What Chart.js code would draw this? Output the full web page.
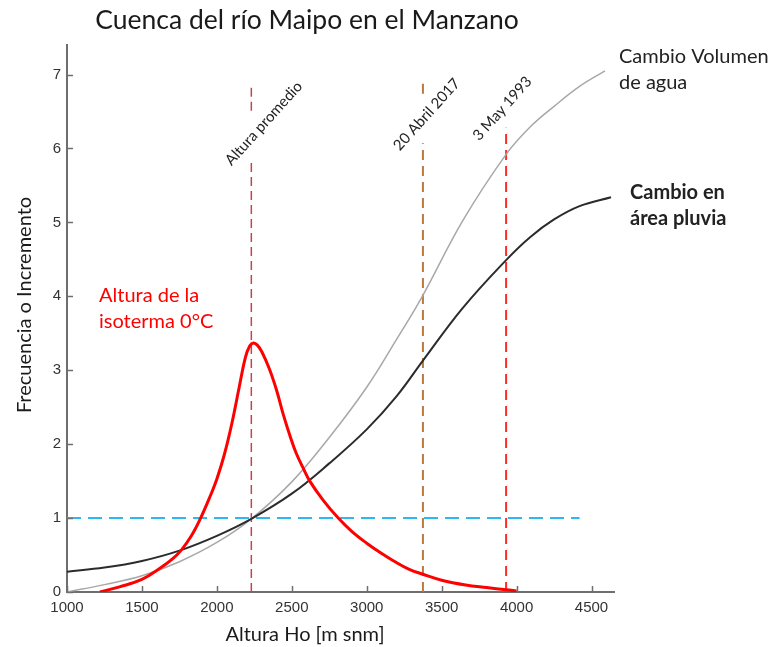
<!DOCTYPE html>
<html>
<head>
<meta charset="utf-8">
<script src="https://cdn.jsdelivr.net/npm/chart.js@4.4.1/dist/chart.umd.min.js"></script>
<style>
  body { margin: 0; background: #fff; }
  #wrap { width: 771px; height: 647px; position: relative; }
</style>
</head>
<body>
<div id="wrap"><canvas id="maipoChart"></canvas></div>
<script>
// --- datos ---
const isotermaX = [1220, 1350, 1500, 1620, 1700, 1764, 1830, 1887, 1950, 2000, 2050, 2100, 2150, 2190, 2220, 2245, 2270, 2300, 2350, 2400, 2442, 2490, 2531, 2580, 2620, 2710, 2810, 2900, 3000, 3100, 3180, 3280, 3375, 3500, 3660, 3800, 3930, 4000];
const isotermaY = [0, 0.07, 0.17, 0.32, 0.44, 0.57, 0.76, 0.98, 1.27, 1.53, 1.86, 2.28, 2.78, 3.17, 3.33, 3.37, 3.34, 3.25, 3.02, 2.72, 2.41, 2.1, 1.87, 1.66, 1.5, 1.24, 1.0, 0.82, 0.66, 0.52, 0.42, 0.31, 0.24, 0.16, 0.095, 0.06, 0.03, 0.015];

const pluviaX = [1000, 1250, 1500, 1750, 2000, 2230, 2500, 2750, 3000, 3200, 3375, 3640, 3930, 4090, 4250, 4420, 4630];
const pluviaY = [0.275, 0.33, 0.42, 0.56, 0.76, 0.99, 1.33, 1.74, 2.2, 2.65, 3.13, 3.84, 4.49, 4.8, 5.04, 5.22, 5.34];

const volumenX = [1000, 1250, 1500, 1750, 2000, 2230, 2500, 2750, 3000, 3200, 3371, 3640, 3930, 4090, 4250, 4420, 4590];
const volumenY = [0, 0.1, 0.22, 0.41, 0.67, 0.99, 1.49, 2.09, 2.77, 3.42, 4.0, 5.02, 5.92, 6.29, 6.57, 6.84, 7.05];

// línea de referencia y = 1
const refX = [1000, 4420];
const refY = [1, 1];

// líneas verticales (null = corte donde va la etiqueta)
const promedioX = [2230, 2230, 2230, 2230, 2230];
const promedioY = [0, 5.84, null, 6.51, 6.84];
const abril2017X = [3375, 3375, 3375, 3375, 3375];
const abril2017Y = [0, 6.07, null, 6.74, 6.89];
const mayo1993X = [3930, 3930];
const mayo1993Y = [0, 6.28];

const markerNames = ['Altura promedio', '20 Abril 2017', '3 May 1993'];
const xTickValues = [1000, 1500, 2000, 2500, 3000, 3500, 4000, 4500];
const yTickValues = [0, 1, 2, 3, 4, 5, 6, 7];

const pts = (xs, ys) => xs.map((x, i) => ({ x: x, y: ys[i] }));

const FONT = 'Lato, "Open Sans", sans-serif';

// posiciones de las etiquetas giradas (centro, en coordenadas de datos)
const markerLabelPos = [
  { x: 2313, y: 6.34 },
  { x: 3400, y: 6.46 },
  { x: 3905, y: 6.54 }
];

const decoPlugin = {
  id: 'deco',
  afterDraw(chart) {
    const { ctx, chartArea: ca, scales: { x, y } } = chart;
    ctx.save();

    // marcas de los ejes hacia adentro
    ctx.strokeStyle = '#6e6e6e';
    ctx.lineWidth = 1.5;
    x.ticks.forEach(t => {
      const px = Math.round(x.getPixelForValue(t.value)) + 0.5;
      ctx.beginPath(); ctx.moveTo(px, ca.bottom); ctx.lineTo(px, ca.bottom - 6); ctx.stroke();
    });
    y.ticks.forEach(t => {
      const py = Math.round(y.getPixelForValue(t.value)) + 0.5;
      ctx.beginPath(); ctx.moveTo(ca.left, py); ctx.lineTo(ca.left + 6, py); ctx.stroke();
    });

    // título
    ctx.fillStyle = '#1a1a1a';
    ctx.font = '26.5px ' + FONT;
    ctx.textAlign = 'center';
    ctx.textBaseline = 'middle';
    ctx.fillText('Cuenca del río Maipo en el Manzano', 307, 20);

    // títulos de ejes
    ctx.font = '20px ' + FONT;
    ctx.fillText('Altura Ho [m snm]', 305, 635);
    ctx.save();
    ctx.translate(25, 305);
    ctx.rotate(-Math.PI / 2);
    ctx.fillText('Frecuencia o Incremento', 0, 0);
    ctx.restore();

    // etiquetas de las curvas
    ctx.textAlign = 'left';
    ctx.fillStyle = '#222';
    ctx.font = '20px ' + FONT;
    ctx.fillText('Cambio Volumen', 619, 57);
    ctx.fillText('de agua', 619, 83);
    ctx.font = 'bold 20px ' + FONT;
    ctx.fillText('Cambio en', 630, 193);
    ctx.fillText('área pluvia', 630, 219);
    ctx.fillStyle = '#ff0000';
    ctx.font = '20px ' + FONT;
    ctx.fillText('Altura de la', 99, 296);
    ctx.fillText('isoterma 0°C', 99, 322);

    // etiquetas giradas
    ctx.fillStyle = '#222';
    ctx.font = '15px ' + FONT;
    ctx.textAlign = 'center';
    markerNames.forEach((name, i) => {
      const p = markerLabelPos[i];
      ctx.save();
      ctx.translate(x.getPixelForValue(p.x), y.getPixelForValue(p.y));
      ctx.rotate(-48 * Math.PI / 180);
      ctx.fillText(name, 0, 0);
      ctx.restore();
    });

    ctx.restore();
  }
};

const tickFont = { family: '"Liberation Sans", Arial, sans-serif', size: 15 };

new Chart(document.getElementById('maipoChart').getContext('2d'), {
  type: 'line',
  data: {
    datasets: [
      { label: 'Altura de la isoterma 0°C', data: pts(isotermaX, isotermaY), borderColor: '#ff0000', borderWidth: 3, tension: 0.4 },
      { label: 'Cambio en área pluvia', data: pts(pluviaX, pluviaY), borderColor: '#2b2b2b', borderWidth: 2, tension: 0.4 },
      { label: 'Cambio Volumen de agua', data: pts(volumenX, volumenY), borderColor: '#a8a8a8', borderWidth: 1.5, tension: 0.4 },
      { label: 'Altura promedio', data: pts(promedioX, promedioY), borderColor: '#c4464a', borderWidth: 1.5, borderDash: [9, 5] },
      { label: '20 Abril 2017', data: pts(abril2017X, abril2017Y), borderColor: '#b87a3e', borderWidth: 2, borderDash: [10, 6] },
      { label: '3 May 1993', data: pts(mayo1993X, mayo1993Y), borderColor: '#ff2a2a', borderWidth: 2, borderDash: [10, 6] },
      { label: 'Referencia', data: pts(refX, refY), borderColor: '#2cb8f0', borderWidth: 2, borderDash: [14, 7] }
    ]
  },
  options: {
    responsive: true,
    maintainAspectRatio: false,
    animation: false,
    spanGaps: false,
    elements: { point: { radius: 0 }, line: { fill: false } },
    layout: { padding: { left: 0, right: 157, top: 45, bottom: 0 } },
    plugins: { legend: { display: false }, tooltip: { enabled: false } },
    scales: {
      x: {
        type: 'linear',
        min: 1000,
        max: 4650,
        afterFit: s => { s.height = 55; },
        afterBuildTicks: s => { s.ticks = xTickValues.map(v => ({ value: v })); },
        grid: { display: false, drawTicks: false },
        border: { display: true, color: '#6e6e6e', width: 2 },
        ticks: { padding: 7, color: '#333', font: tickFont, callback: v => String(v) }
      },
      y: {
        type: 'linear',
        min: 0,
        max: 7.4,
        afterFit: s => { s.width = 67; },
        afterBuildTicks: s => { s.ticks = yTickValues.map(v => ({ value: v })); },
        grid: { display: false, drawTicks: false },
        border: { display: true, color: '#6e6e6e', width: 2 },
        ticks: { padding: 6, color: '#333', font: tickFont, callback: v => String(v) }
      }
    }
  },
  plugins: [decoPlugin]
});
</script>
</body>
</html>
